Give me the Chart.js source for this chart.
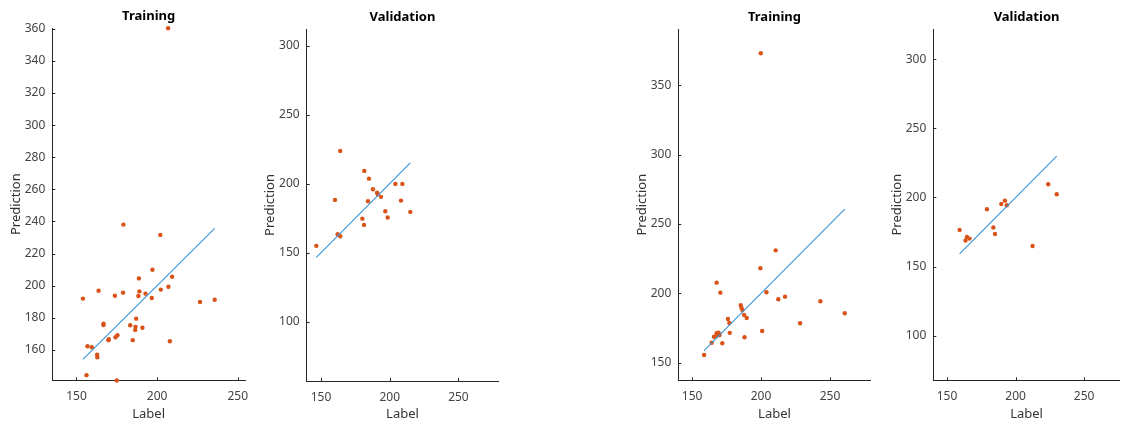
<!DOCTYPE html>
<html>
<head>
<meta charset="utf-8">
<script src="https://cdn.jsdelivr.net/npm/chart.js@4/dist/chart.umd.min.js"></script>
<style>
  html, body { margin: 0; padding: 0; background: #fff; }
  #wrap { position: relative; width: 1122px; height: 425px; overflow: hidden; }
  #wrap canvas { position: absolute; left: 0; top: 0; }
</style>
</head>
<body>
<div id="wrap">
  <canvas id="c1" width="1122" height="425"></canvas>
  <canvas id="c2" width="1122" height="425"></canvas>
  <canvas id="c3" width="1122" height="425"></canvas>
  <canvas id="c4" width="1122" height="425"></canvas>
</div>
<script>
// ---- Model A: training set (label, prediction) ----
const trainA_label = [179.1, 202.0, 154.0, 163.7, 173.8, 178.9, 188.7, 197.1, 189.0, 188.4, 192.8, 196.7,
  202.3, 207.0, 209.3, 226.6, 235.7, 166.7, 166.8, 187.0, 183.3, 186.6, 186.4, 190.9, 175.4, 174.2,
  169.8, 170.0, 184.9, 207.9, 156.8, 159.5, 162.8, 162.9, 156.2, 175.0, 206.8];
const trainA_pred = [238.0, 231.6, 191.9, 196.8, 193.7, 195.6, 204.5, 209.9, 196.4, 193.5, 195.0, 192.3,
  197.5, 199.3, 205.5, 189.8, 191.2, 175.5, 176.3, 179.4, 175.3, 174.3, 172.4, 173.7, 169.1, 167.8,
  166.0, 166.6, 166.0, 165.3, 162.2, 161.6, 157.0, 155.4, 144.2, 140.9, 360.3];

// ---- Model A: validation set ----
const valA_label = [164.0, 181.5, 184.9, 187.8, 190.8, 191.3, 193.7, 184.2, 160.2, 204.1, 209.2, 208.2,
  196.8, 198.5, 215.0, 180.1, 181.3, 162.1, 164.0, 146.6];
const valA_pred = [223.7, 209.2, 203.6, 195.9, 193.5, 192.3, 190.4, 187.2, 188.2, 199.8, 199.8, 187.7,
  180.0, 175.4, 179.5, 174.6, 170.1, 163.3, 161.9, 154.9];

// ---- Model B: training set ----
const trainB_label = [210.6, 199.5, 167.8, 170.5, 203.9, 212.5, 217.4, 243.0, 260.7, 228.3, 185.3, 185.8,
  186.5, 187.7, 189.6, 176.0, 177.0, 177.3, 200.8, 188.0, 165.9, 167.8, 169.2, 169.9, 167.8, 171.9,
  164.2, 158.7, 199.8];
const trainB_pred = [231.0, 218.1, 207.7, 200.5, 200.8, 195.7, 197.6, 194.3, 185.6, 178.4, 191.4, 189.5,
  188.0, 184.4, 182.2, 181.5, 178.6, 171.5, 172.9, 168.3, 168.7, 171.2, 171.6, 170.0, 169.5, 164.0,
  164.4, 155.5, 373.1];

// ---- Model B: validation set ----
const valB_label = [223.8, 230.0, 192.2, 189.6, 193.6, 179.1, 183.8, 185.0, 159.2, 164.5, 166.4, 163.5, 212.4];
const valB_pred = [209.6, 202.3, 197.7, 195.3, 194.4, 191.5, 178.2, 173.6, 176.5, 171.4, 170.2, 168.8, 164.9];

// ---- Tick labels ----
const labelTicks = [150, 200, 250];
const trainA_ticks = [160, 180, 200, 220, 240, 260, 280, 300, 320, 340, 360];
const valA_ticks = [100, 150, 200, 250, 300];
const trainB_ticks = [150, 200, 250, 300, 350];
const valB_ticks = [100, 150, 200, 250, 300];

const FONT = "'Noto Sans', 'Open Sans', sans-serif";
const DOT = '#D95319';
const LINE = '#3a94d6';
const AXIS = '#262626';

// short tick marks pointing into the plot area
const innerTicks = {
  id: 'innerTicks',
  afterDraw(chart) {
    const { ctx, chartArea: a, scales: { x, y } } = chart;
    ctx.save();
    ctx.strokeStyle = AXIS;
    ctx.lineWidth = 1;
    ctx.beginPath();
    x.ticks.forEach(t => {
      const px = Math.round(x.getPixelForValue(t.value)) + 0.5;
      ctx.moveTo(px, a.bottom); ctx.lineTo(px, a.bottom - 3);
    });
    y.ticks.forEach(t => {
      const py = Math.round(y.getPixelForValue(t.value)) + 0.5;
      ctx.moveTo(a.left, py); ctx.lineTo(a.left + 3, py);
    });
    ctx.stroke();
    ctx.restore();
  }
};

const Y_W = 44, X_H = 41.5, TITLE_BOX = 21.6;

function panel(id, title, labels, preds, yTicks, box, xr, yr) {
  const pts = labels.map((v, i) => ({ x: v, y: preds[i] }));
  const lo = Math.min(...labels), hi = Math.max(...labels);
  new Chart(document.getElementById(id), {
    type: 'scatter',
    data: {
      datasets: [
        { data: pts, backgroundColor: DOT, borderWidth: 0, pointRadius: 2.2, pointHoverRadius: 2.2,
          clip: false, order: 2 },
        { type: 'line', data: [{ x: lo, y: lo }, { x: hi, y: hi }], borderColor: LINE, borderWidth: 1.1,
          pointRadius: 0, fill: false, order: 1 }
      ]
    },
    options: {
      responsive: false,
      animation: false,
      events: [],
      layout: {
        padding: {
          left: box.left - Y_W,
          right: 1122 - box.right,
          top: box.top - TITLE_BOX,
          bottom: 425 - box.bottom - X_H
        }
      },
      plugins: {
        legend: { display: false },
        tooltip: { enabled: false },
        title: {
          display: true, text: title, fullSize: false, color: '#000',
          font: { family: FONT, size: 13, weight: 'bold' },
          padding: { top: 2.5, bottom: 3.5 }
        }
      },
      scales: {
        x: {
          type: 'linear', min: xr[0], max: xr[1],
          grid: { display: false, drawTicks: false },
          border: { display: true, color: AXIS, width: 1 },
          afterBuildTicks: s => { s.ticks = labelTicks.map(v => ({ value: v })); },
          afterFit: s => { s.height = X_H; },
          ticks: { color: '#444', padding: 9, font: { family: FONT, size: 12 } },
          title: { display: true, text: 'Label', color: '#333', padding: 0, font: { family: FONT, size: 13 } }
        },
        y: {
          type: 'linear', min: yr[0], max: yr[1],
          grid: { display: false, drawTicks: false },
          border: { display: true, color: AXIS, width: 1 },
          afterBuildTicks: s => { s.ticks = yTicks.map(v => ({ value: v })); },
          afterFit: s => { s.width = Y_W; },
          ticks: { color: '#444', padding: 7, font: { family: FONT, size: 12 } },
          title: { display: true, text: 'Prediction', color: '#333', padding: 0, font: { family: FONT, size: 13 } }
        }
      }
    },
    plugins: [innerTicks]
  });
}

panel('c1', 'Training', trainA_label, trainA_pred, trainA_ticks,
  { left: 52.3, right: 245, top: 28, bottom: 380.3 }, [135, 254.5], [141, 360.5]);
panel('c2', 'Validation', valA_label, valA_pred, valA_ticks,
  { left: 306.7, right: 498.3, top: 29, bottom: 381 }, [139.6, 279], [57, 312]);
panel('c3', 'Training', trainB_label, trainB_pred, trainB_ticks,
  { left: 678.3, right: 870.7, top: 29, bottom: 380.3 }, [140, 279.5], [137.3, 390.6]);
panel('c4', 'Validation', valB_label, valB_pred, valB_ticks,
  { left: 933.3, right: 1121, top: 29, bottom: 380.3 }, [140, 276], [67.6, 322]);
</script>
</body>
</html>
